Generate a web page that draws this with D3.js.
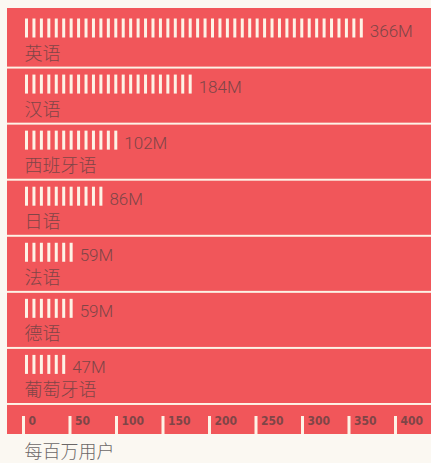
<!DOCTYPE html>
<html>
<head>
<meta charset="utf-8">
<script src="https://cdn.jsdelivr.net/npm/d3@7/dist/d3.min.js"></script>
<style>
  html, body { margin: 0; padding: 0; background: #fbf8f2; }
  svg { display: block; }
</style>
</head>
<body>
<script>
// Languages and their user counts (millions)
const languages = ["英语", "汉语", "西班牙语", "日语", "法语", "德语", "葡萄牙语"];
const users = [366, 184, 102, 86, 59, 59, 47];
const axisTicks = [0, 50, 100, 150, 200, 250, 300, 350, 400];
const axisTitle = "每百万用户";
const unitPerStripe = 8; // each white stripe stands for 8M users

const W = 431, H = 463;
const red = "#f1565a";
const cream = "#fdf3e6";
const ink = "#7f4547";

const svg = d3.select("body").append("svg")
  .attr("width", W).attr("height", H);

const x = d3.scaleLinear().domain([0, 400]).range([23.5, 23.5 + 400 * 0.93]);

const y = d3.scaleBand()
  .domain(languages)
  .range([12.5, 403])
  .paddingInner(0.035)
  .paddingOuter(0);

// Red panel behind all rows and the axis strip
svg.append("rect")
  .attr("x", 7).attr("y", 8)
  .attr("width", W - 7).attr("height", 434 - 8)
  .attr("fill", red);

// Cream separators between rows
const step = y.step();
const gap = step - y.bandwidth();
svg.append("g").selectAll("rect")
  .data(languages)
  .join("rect")
  .attr("x", 7)
  .attr("y", d => y(d) + y.bandwidth())
  .attr("width", W - 7)
  .attr("height", gap)
  .attr("fill", cream);

const rows = svg.append("g").selectAll("g")
  .data(languages.map((name, i) => ({ name, value: users[i] })))
  .join("g")
  .attr("transform", d => `translate(0,${y(d.name)})`);

// Striped bars: one stripe per unit
rows.each(function(d) {
  const n = Math.round(d.value / unitPerStripe);
  d3.select(this).selectAll("rect.stripe")
    .data(d3.range(n))
    .join("rect")
    .attr("class", "stripe")
    .attr("x", i => x(i * unitPerStripe) + 1.5)
    .attr("y", 6)
    .attr("width", 3)
    .attr("height", 19)
    .attr("fill", cream);
  d.end = x((n - 1) * unitPerStripe) + 4.5;
});

// Value labels
rows.append("text")
  .attr("x", d => d.end + 7)
  .attr("y", 24.5)
  .attr("font-family", "Roboto, 'DejaVu Sans Condensed', sans-serif")
  .attr("font-weight", 300)
  .attr("font-size", 17)
  .attr("fill", ink)
  .text(d => d.value + "M");

// Language names
rows.append("text")
  .attr("x", 24.5)
  .attr("y", 47.5)
  .attr("font-family", "'Noto Sans CJK SC', sans-serif")
  .attr("font-weight", 300)
  .attr("font-size", 18)
  .attr("fill", ink)
  .text(d => d.name);

// Axis strip with notched ticks
const axisG = svg.append("g");
axisG.selectAll("rect")
  .data(axisTicks)
  .join("rect")
  .attr("x", d => x(d) - 1.5)
  .attr("y", 416)
  .attr("width", 3)
  .attr("height", 18)
  .attr("fill", cream);
axisG.selectAll("text")
  .data(axisTicks)
  .join("text")
  .attr("x", d => x(d) + 5)
  .attr("y", 424.5)
  .attr("font-family", "'DejaVu Sans Condensed', 'DejaVu Sans', sans-serif")
  .attr("font-weight", "bold")
  .attr("font-size", 12)
  .attr("fill", ink)
  .text(d => d);

// Axis title
svg.append("text")
  .attr("x", 24.5)
  .attr("y", 458)
  .attr("font-family", "'Noto Sans CJK SC', sans-serif")
  .attr("font-weight", 300)
  .attr("font-size", 18)
  .attr("fill", "#6b6767")
  .text(axisTitle);
</script>
</body>
</html>
